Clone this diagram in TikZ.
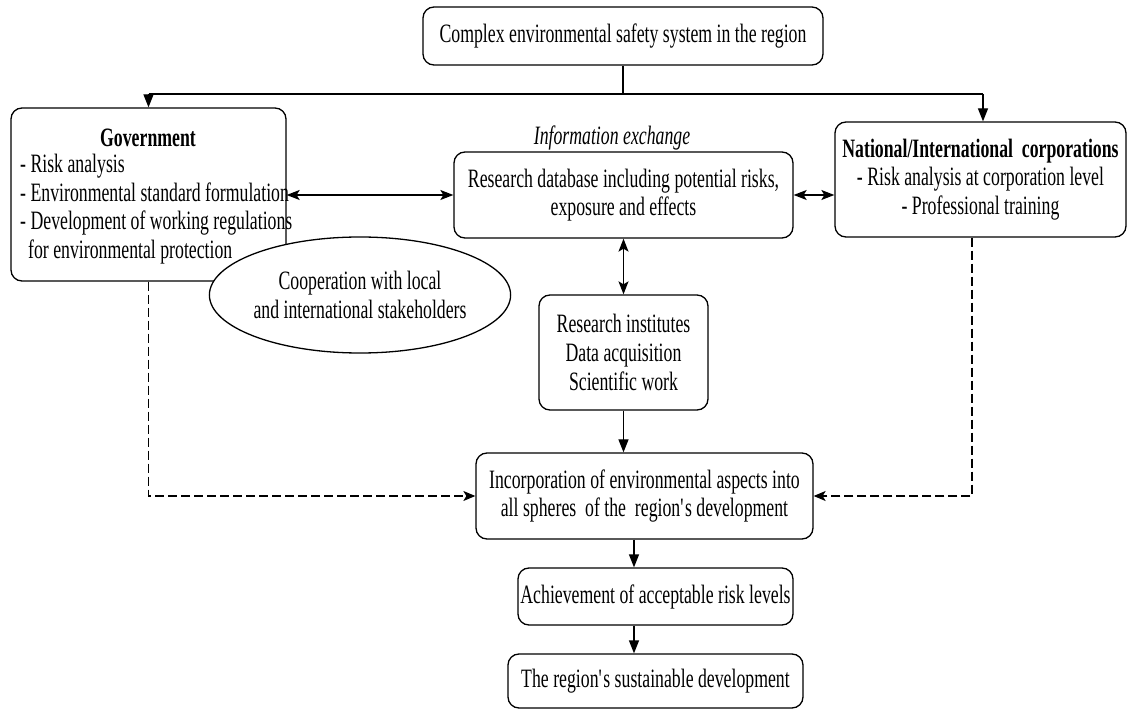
\documentclass[tikz,border=0pt]{standalone}
\usepackage{fontspec}
\setmainfont{Liberation Serif}[FakeStretch=0.67]
\usetikzlibrary{shapes.geometric,arrows.meta,calc}
\begin{document}
\begin{tikzpicture}[x=1pt,y=-1pt,
  txt/.style={font=\fontsize{26.5}{28.7}\selectfont, inner sep=0pt},
  rbox/.style={draw, line width=1.3pt, rounded corners=11pt, fill=white, txt, align=center},
  conn/.style={line width=1.3pt},
  tri/.style={-{Triangle[length=13pt,width=10pt]}},
  dbl/.style={{Stealth[length=13pt,width=10pt,inset=3pt]}-{Stealth[length=13pt,width=10pt,inset=3pt]}},
  dsh/.style={line width=1.2pt, dash pattern=on 9pt off 4pt, -{Stealth[length=12pt,width=10pt,inset=3pt]}}
]
\useasboundingbox (0,0) rectangle (1128,711);

% nodes
\node[rbox, minimum width=400pt, minimum height=58pt] (top) at (623,36) {Complex environmental safety system in the region};
\node[rbox, minimum width=275pt, minimum height=173pt] (gov) at (148.5,194.5) {};
\node[txt, font=\fontsize{26.5}{28.7}\selectfont\bfseries] (govtitle) at (148,138) {Government};
\node[txt, align=left, anchor=west] (govtext) at (20,209) {- Risk analysis\\- Environmental standard formulation\\- Development of working regulations\\\hspace*{8pt}for environmental protection};
\node[draw, ellipse, line width=1.3pt, fill=white, txt, align=center, minimum width=275pt, minimum height=116pt] (coop) at (360,295) {Cooperation with local\\and international stakeholders};
\node[rbox, minimum width=339pt, minimum height=86pt] (mid) at (623.5,195) {Research database including potential risks,\\exposure and effects};
\node[txt, font=\fontsize{26.5}{28.7}\selectfont\itshape] (info) at (612,138) {Information exchange};
\node[rbox, minimum width=291pt, minimum height=115pt] (corp) at (980.5,179.5) {\textbf{National/International\ \ corporations}\\- Risk analysis at corporation level\\- Professional training};
\node[rbox, minimum width=169pt, minimum height=115pt] (inst) at (623.5,352.5) {Research institutes\\Data acquisition\\Scientific work};
\node[rbox, minimum width=337pt, minimum height=86pt] (inc) at (644.5,496) {Incorporation of environmental aspects into\\all spheres\ \ of the\ \ region\textquotesingle s development};
\node[rbox, minimum width=275pt, minimum height=57pt] (ach) at (655.5,596.5) {Achievement of acceptable risk levels};
\node[rbox, minimum width=295pt, minimum height=54pt] (sus) at (655.5,681) {The region\textquotesingle s sustainable development};

\coordinate (jn) at (623,94);
\coordinate (jl) at (148.5,94);
\coordinate (jr) at (983,94);

% connectors
\draw[conn] (top.south) -- (jn);
\draw[conn] (jl) -- (jr);
\draw[conn,tri] (jl) -- (gov.north);
\draw[conn,tri] (jr) -- (jr |- corp.north);
\draw[conn,dbl] (gov.east |- mid.west) -- (mid.west);
\draw[conn,dbl] (mid.east) -- (mid.east -| corp.west);
\draw[conn,dbl] (mid.south) -- (inst.north);
\draw[conn,tri] (inst.south) -- (inst.south |- inc.north);
\coordinate (cx) at (634,0);
\draw[conn,tri] (cx |- inc.south) -- (cx |- ach.north);
\draw[conn,tri] (cx |- ach.south) -- (cx |- sus.north);
\draw[dsh] (gov.south) |- (inc.west);
\coordinate (rd) at (972,0);
\draw[dsh] (rd |- corp.south) |- (inc.east);
\end{tikzpicture}
\end{document}
